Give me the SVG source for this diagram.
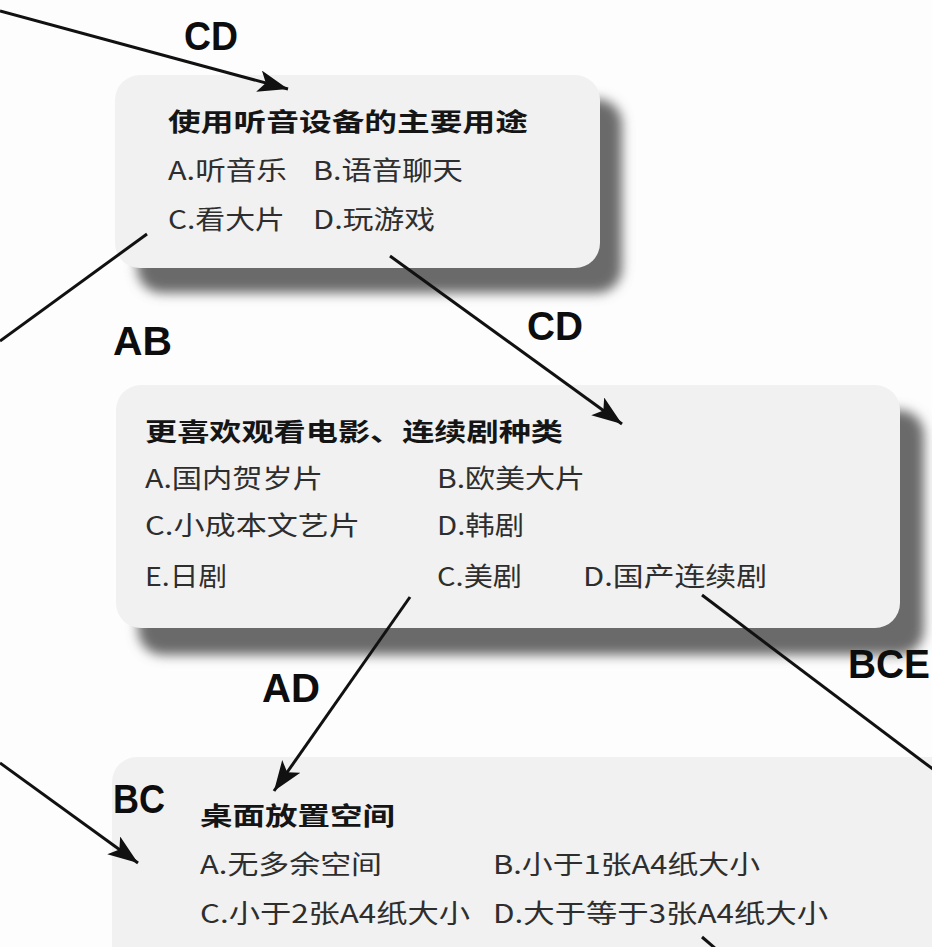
<svg xmlns="http://www.w3.org/2000/svg" width="932" height="947" viewBox="0 0 932 947">
  <style>
    .face { fill: #f1f1f1; }
    .shadow { fill: #6a6a6a; filter: url(#blur); }
    .title { font-family: "Noto Sans CJK SC", sans-serif; font-weight: 700; font-size: 25px; fill: #151515; }
    .item { font-family: "Noto Sans CJK SC", sans-serif; font-weight: 400; font-size: 26px; fill: #2e2e2e; }
    .label { font-family: "Liberation Sans", "DejaVu Sans", sans-serif; font-weight: 700; font-size: 40px; fill: #0d0d0d; }
    .wire { fill: none; stroke: #111; stroke-width: 3; }
    .arrow { marker-end: url(#head); }
  </style>
  <defs>
    <filter id="blur" x="-10%" y="-20%" width="120%" height="140%">
      <feGaussianBlur stdDeviation="6"/>
    </filter>
    <marker id="head" markerUnits="userSpaceOnUse" markerWidth="32" markerHeight="24" refX="30" refY="11" orient="auto">
      <path d="M0,0 L30,11 L0,22 L7,11 Z" fill="#111"/>
    </marker>
  </defs>

  <rect width="932" height="947" fill="#fdfdfd"/>

  <g id="node-usage">
    <rect class="shadow" x="137" y="99" width="485" height="194" rx="25"/>
    <rect class="face" x="115" y="75" width="485" height="193" rx="25"/>
    <text class="title" x="168" y="131" textLength="360" lengthAdjust="spacingAndGlyphs">使用听音设备的主要用途</text>
    <text class="item" x="168" y="180" textLength="119" lengthAdjust="spacingAndGlyphs">A.听音乐</text>
    <text class="item" x="313" y="180" textLength="150" lengthAdjust="spacingAndGlyphs">B.语音聊天</text>
    <text class="item" x="168" y="229" textLength="117" lengthAdjust="spacingAndGlyphs">C.看大片</text>
    <text class="item" x="313" y="229" textLength="122" lengthAdjust="spacingAndGlyphs">D.玩游戏</text>
  </g>

  <g id="node-genre">
    <rect class="shadow" x="138" y="410" width="786" height="245" rx="25"/>
    <rect class="face" x="116" y="385" width="784" height="243" rx="25"/>
    <text class="title" x="145" y="441" textLength="418" lengthAdjust="spacingAndGlyphs">更喜欢观看电影、连续剧种类</text>
    <text class="item" x="145" y="488" textLength="178" lengthAdjust="spacingAndGlyphs">A.国内贺岁片</text>
    <text class="item" x="437" y="488" textLength="148" lengthAdjust="spacingAndGlyphs">B.欧美大片</text>
    <text class="item" x="145" y="535" textLength="215" lengthAdjust="spacingAndGlyphs">C.小成本文艺片</text>
    <text class="item" x="437" y="535" textLength="87" lengthAdjust="spacingAndGlyphs">D.韩剧</text>
    <text class="item" x="145" y="586" textLength="82" lengthAdjust="spacingAndGlyphs">E.日剧</text>
    <text class="item" x="437" y="586" textLength="85" lengthAdjust="spacingAndGlyphs">C.美剧</text>
    <text class="item" x="583" y="586" textLength="184" lengthAdjust="spacingAndGlyphs">D.国产连续剧</text>
  </g>

  <g id="node-desk">
    <rect class="face" x="112" y="757" width="850" height="240" rx="25"/>
    <text class="title" x="200" y="825" textLength="195" lengthAdjust="spacingAndGlyphs">桌面放置空间</text>
    <text class="item" x="200" y="874" textLength="182" lengthAdjust="spacingAndGlyphs">A.无多余空间</text>
    <text class="item" x="493" y="874" textLength="267" lengthAdjust="spacingAndGlyphs">B.小于1张A4纸大小</text>
    <text class="item" x="200" y="923" textLength="270" lengthAdjust="spacingAndGlyphs">C.小于2张A4纸大小</text>
    <text class="item" x="493" y="923" textLength="335" lengthAdjust="spacingAndGlyphs">D.大于等于3张A4纸大小</text>
  </g>

  <g id="connectors">
    <g id="edge-cd-in">
      <path class="wire arrow" d="M0,11 L288,89"/>
      <text class="label" x="184" y="50" textLength="54" lengthAdjust="spacingAndGlyphs">CD</text>
    </g>
    <g id="edge-ab">
      <path class="wire" d="M147,234 L0,341"/>
      <text class="label" x="113" y="355" textLength="59" lengthAdjust="spacingAndGlyphs">AB</text>
    </g>
    <g id="edge-cd-genre">
      <path class="wire arrow" d="M390,256 L622,424"/>
      <text class="label" x="527" y="340" textLength="56" lengthAdjust="spacingAndGlyphs">CD</text>
    </g>
    <g id="edge-ad">
      <path class="wire arrow" d="M410,597 L274,791"/>
      <text class="label" x="262" y="702" textLength="58" lengthAdjust="spacingAndGlyphs">AD</text>
    </g>
    <g id="edge-bce">
      <path class="wire" d="M702,595 L934,770"/>
      <text class="label" x="848" y="678" textLength="82" lengthAdjust="spacingAndGlyphs">BCE</text>
    </g>
    <g id="edge-bc">
      <path class="wire arrow" d="M0,763 L138,863"/>
      <text class="label" x="113" y="813" textLength="52" lengthAdjust="spacingAndGlyphs">BC</text>
    </g>
    <g id="edge-bottom">
      <path class="wire" d="M702,937 L716,949"/>
    </g>
  </g>
</svg>
